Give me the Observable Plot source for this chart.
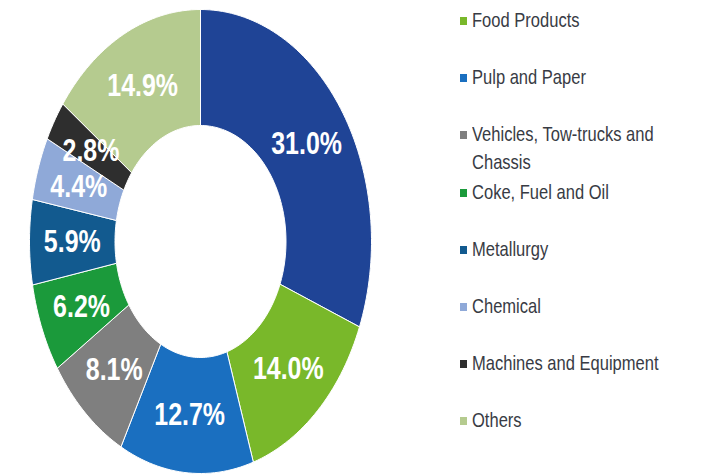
<!DOCTYPE html>
<html>
<head>
<meta charset="utf-8">
<script src="https://cdn.jsdelivr.net/npm/d3@7"></script>
<script src="https://cdn.jsdelivr.net/npm/@observablehq/plot@0.6"></script>
<style>
  html, body { margin: 0; padding: 0; background: #fff; }
  #wrap { position: relative; width: 726px; height: 475px; overflow: hidden; background: #fff; }
  #chart { position: absolute; left: 0; top: 0; }
  #legend { position: absolute; left: 0; top: 0; width: 726px; height: 475px; }
  .item { position: absolute; left: 460px; font-family: "Liberation Sans", Arial, sans-serif; font-size: 19px; line-height: 26px; color: #383b44; white-space: nowrap; }
  .sw { position: absolute; left: 0; width: 7px; height: 8px; }
  .lbl { display: inline-block; margin-left: 12px; transform: scale(0.87, 1.1); transform-origin: 0 13px; }
</style>
</head>
<body>
<div id="wrap">
  <div id="chart"></div>
  <div id="legend"></div>
</div>
<script>
// Slices, clockwise from 12 o'clock
const categories = ["Top category", "Food Products", "Pulp and Paper", "Vehicles, Tow-trucks and Chassis", "Coke, Fuel and Oil", "Metallurgy", "Chemical", "Machines and Equipment", "Others"];
const shares = [31.0, 14.0, 12.7, 8.1, 6.2, 5.9, 4.4, 2.8, 14.9];
const colors = ["#1f4496", "#79b82a", "#1a6fc0", "#7f7f7f", "#1b9a3b", "#125a8f", "#8fa9d8", "#2e2e2e", "#b5cb8f"];
// Legend entries (as shown in the picture)
const legendLabels = ["Food Products", "Pulp and Paper", "Vehicles, Tow-trucks and|Chassis", "Coke, Fuel and Oil", "Metallurgy", "Chemical", "Machines and Equipment", "Others"];
const legendColors = ["#79b82a", "#1a6fc0", "#7f7f7f", "#1b9a3b", "#125a8f", "#8fa9d8", "#2e2e2e", "#b5cb8f"];

const total = d3.sum(shares);
const R_OUT = 1, R_IN = 0.5, R_LABEL = 0.75;

// Build slice polygons (geometry derived from the shares)
const slices = [];
let cum = 0;
shares.forEach((v, i) => {
  slices.push({category: categories[i], value: v, a0: cum / total, a1: (cum + v) / total});
  cum += v;
});
const pts = [];
for (const s of slices) {
  const n = Math.max(3, Math.ceil((s.a1 - s.a0) * 240));
  const ang = t => 2 * Math.PI * (s.a0 + (s.a1 - s.a0) * t);
  for (let k = 0; k <= n; k++) { const a = ang(k / n); pts.push({category: s.category, x: R_OUT * Math.sin(a), y: R_OUT * Math.cos(a)}); }
  for (let k = n; k >= 0; k--) { const a = ang(k / n); pts.push({category: s.category, x: R_IN * Math.sin(a), y: R_IN * Math.cos(a)}); }
  const a = ang(0); pts.push({category: s.category, x: R_OUT * Math.sin(a), y: R_OUT * Math.cos(a)});
}
const labels = slices.map(s => {
  const a = Math.PI * (s.a0 + s.a1);
  return {x: R_LABEL * Math.sin(a), y: R_LABEL * Math.cos(a), text: s.value.toFixed(1) + "%"};
});

const plot = Plot.plot({
  width: 400,
  height: 475,
  marginLeft: 29,
  marginRight: 29,
  marginTop: 9,
  marginBottom: 2,
  x: {domain: [-1, 1], axis: null},
  y: {domain: [-1, 1], axis: null},
  color: {domain: categories, range: colors},
  style: {background: "transparent"},
  marks: [
    Plot.line(pts, {x: "x", y: "y", z: "category", fill: "category", stroke: "#ffffff", strokeWidth: 1, curve: "linear"}),
    Plot.text(labels, {x: "x", y: "y", text: "text", fill: "#ffffff", fontSize: 32, fontWeight: "bold", fontFamily: "Liberation Sans, Arial, sans-serif"})
  ]
});
document.getElementById("chart").appendChild(plot);

// Narrow the slice labels horizontally, as in the reference
plot.querySelectorAll('g[aria-label="text"] text').forEach(t => {
  const tr = t.getAttribute("transform");
  if (tr) t.setAttribute("transform", tr + " scale(0.78,1)");
  else {
    const x = +t.getAttribute("x") || 0, y = +t.getAttribute("y") || 0;
    t.removeAttribute("x"); t.removeAttribute("y");
    t.setAttribute("transform", `translate(${x},${y}) scale(0.78,1)`);
  }
});

// Legend
const legend = document.getElementById("legend");
legendLabels.forEach((lab, i) => {
  const cy = 20 + i * 57.2;
  const item = document.createElement("div");
  item.className = "item";
  item.style.top = (cy - 13) + "px";
  const sw = document.createElement("div");
  sw.className = "sw";
  sw.style.background = legendColors[i];
  sw.style.top = (13 - 3) + "px";
  item.appendChild(sw);
  const span = document.createElement("span");
  span.className = "lbl";
  span.innerHTML = lab.split("|").join("<br>");
  item.appendChild(span);
  legend.appendChild(item);
});
</script>
</body>
</html>
